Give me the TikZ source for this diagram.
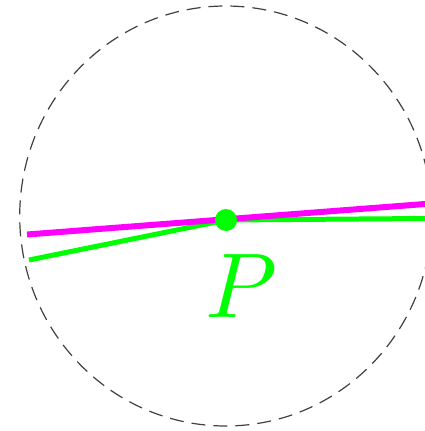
\documentclass[tikz,border=0pt]{standalone}
\usepackage{amsmath}
\tikzset{ >=latex }
\definecolor{pureMagenta}{RGB}{255,0,255}
\definecolor{pureGreen}{RGB}{0,255,0}
\def\Cx{225.7}
\def\Cy{216}
\def\Rx{206}
\def\Ry{210}
\tikzset{
	boundary/.style={line width=1.2pt, black!75, dash pattern=on 14pt off 8pt},
	chord/.style={line width=6pt, pureMagenta},
	curveline/.style={line width=5pt, pureGreen},
}

\begin{document}
\begin{tikzpicture}[x=1pt,y=-1pt]
	% Frame of the picture
	\clip (0,0) rectangle (425,431);
	% Define Working Coordinates
	\coordinate (O)    at (\Cx,\Cy);		% Centre of the neighbourhood
	\coordinate (P)    at (226,220);		% The point P
	\coordinate (magL) at (27,234.5);		% Left end of the straight line
	\coordinate (magR) at (425,204);		% Right end of the straight line
	\coordinate (grnL) at (29,260);			% Left end of the curve
	\coordinate (grnR) at (425,218.5);		% Right end of the curve
	% Dashed neighbourhood
	\draw[boundary] (O) ellipse [x radius=\Rx pt, y radius=\Ry pt];
	% The curve and the line through P
	\draw[curveline] (grnL) -- (P) -- (grnR);
	\draw[chord] (magL) -- (magR);
	\fill[pureGreen] (P) circle (11pt);
	% Label
	\node[pureGreen, scale=9.2, inner sep=0pt] (Plabel) at (241,286) {$P$};
\end{tikzpicture}
\end{document}
